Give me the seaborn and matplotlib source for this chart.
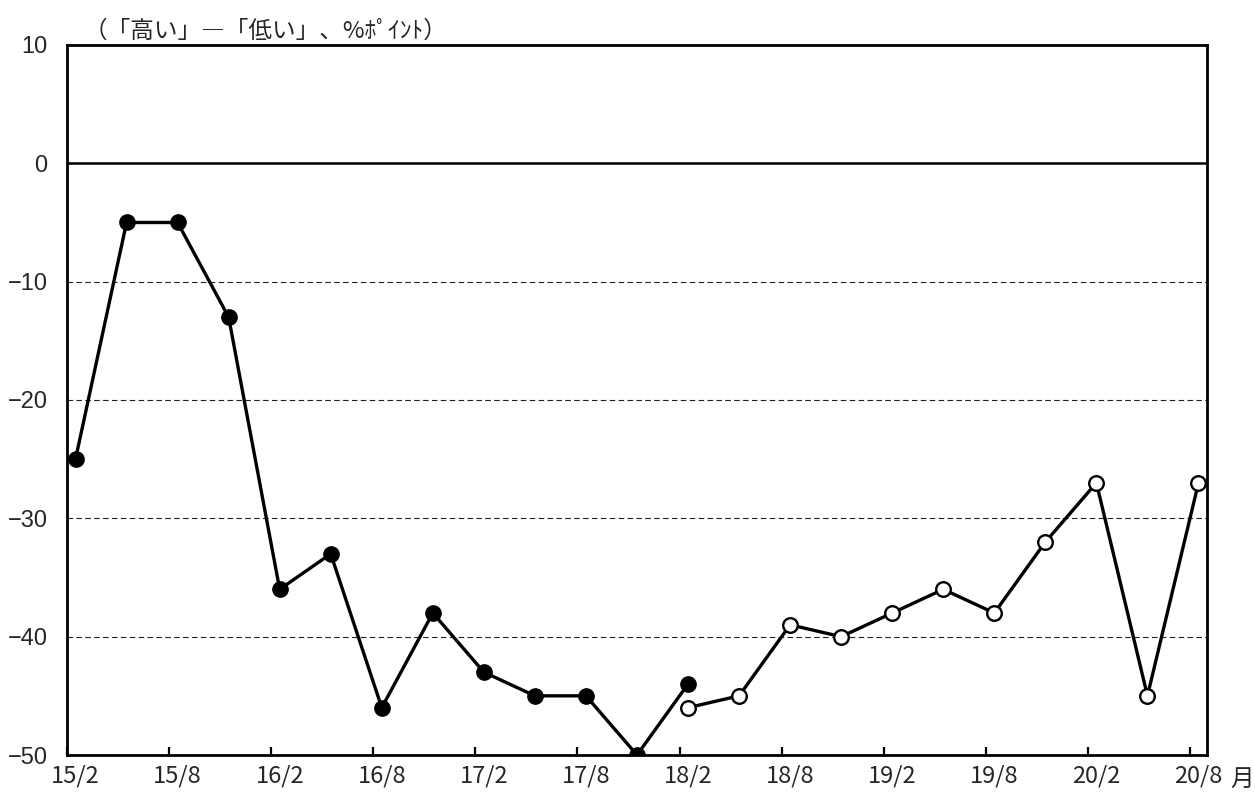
import matplotlib
matplotlib.use("Agg")
import matplotlib.pyplot as plt
import seaborn as sns
import pandas as pd
import numpy as np

sns.set_theme(style="white")
plt.rcParams["font.family"] = ["Noto Sans CJK JP", "DejaVu Sans"]

# Monthly axis from 15/2 to 20/8; survey points every three months
month_labels = ["15/2", "15/8", "16/2", "16/8", "17/2", "17/8",
                "18/2", "18/8", "19/2", "19/8", "20/2", "20/8"]

old_months = ["15/2", "15/5", "15/8", "15/11", "16/2", "16/5", "16/8",
              "16/11", "17/2", "17/5", "17/8", "17/11", "18/2"]
old_values = [-25, -5, -5, -13, -36, -33, -46, -38, -43, -45, -45, -50, -44]

new_months = ["18/2", "18/5", "18/8", "18/11", "19/2", "19/5", "19/8",
              "19/11", "20/2", "20/5", "20/8"]
new_values = [-46, -45, -39, -40, -38, -36, -38, -32, -27, -45, -27]

y_ticks = [10, 0, -10, -20, -30, -40, -50]


def month_index(label):
    yy, mm = label.split("/")
    return (int(yy) - 15) * 12 + int(mm) - 2


old_df = pd.DataFrame({"m": [month_index(s) for s in old_months], "v": old_values})
new_df = pd.DataFrame({"m": [month_index(s) for s in new_months], "v": new_values})

fig = plt.figure(figsize=(12.55, 7.96), dpi=100)
ax = fig.add_axes([67 / 1255, 1 - 755 / 796, 1140 / 1255, 710 / 796])

# dashed reference lines and the solid zero line
for y in [-10, -20, -30, -40]:
    ax.axhline(y, color="#222222", lw=0.8, ls=(0, (5, 3)), zorder=1)
ax.axhline(0, color="black", lw=1.8, zorder=2)

sns.lineplot(data=old_df, x="m", y="v", ax=ax, color="black", lw=2.4,
             marker="o", markersize=11, markerfacecolor="black",
             markeredgecolor="black", markeredgewidth=1.0, zorder=4)
sns.lineplot(data=new_df, x="m", y="v", ax=ax, color="black", lw=2.4,
             marker="o", markersize=10.5, markerfacecolor="white",
             markeredgecolor="black", markeredgewidth=1.7, zorder=4)

n_months = month_index("20/8") + 1
ax.set_xlim(-0.5, n_months - 0.5)
ax.set_ylim(-50, 10)

ax.set_xticks([month_index(s) for s in month_labels])
ax.set_xticklabels(month_labels, fontsize=17)
ax.set_xticks(np.arange(-0.5, n_months - 0.5, 6), minor=True)
ax.tick_params(axis="x", which="major", length=0, pad=7)
ax.tick_params(axis="x", which="minor", direction="in", length=6,
               width=1.6, color="black", bottom=True)

ax.set_yticks(y_ticks)
ax.set_yticklabels([f"{v}".replace("-", "\u2212") for v in y_ticks],
                   fontsize=17, family="Liberation Sans")
ax.tick_params(axis="y", length=0, pad=14)

ax.set_xlabel("")
ax.set_ylabel("")
for side in ["left", "right", "top", "bottom"]:
    ax.spines[side].set_visible(True)
    ax.spines[side].set_color("black")
    ax.spines[side].set_linewidth(2.0)

fig.text(84 / 1255, 1 - 31 / 796, "（「高い」―「低い」、%ﾎﾟｲﾝﾄ）",
         fontsize=17, ha="left", va="center")
fig.text(1230 / 1255, 1 - 779 / 796, "月", fontsize=17, ha="left", va="center")

fig.savefig("out.png", dpi=100)
